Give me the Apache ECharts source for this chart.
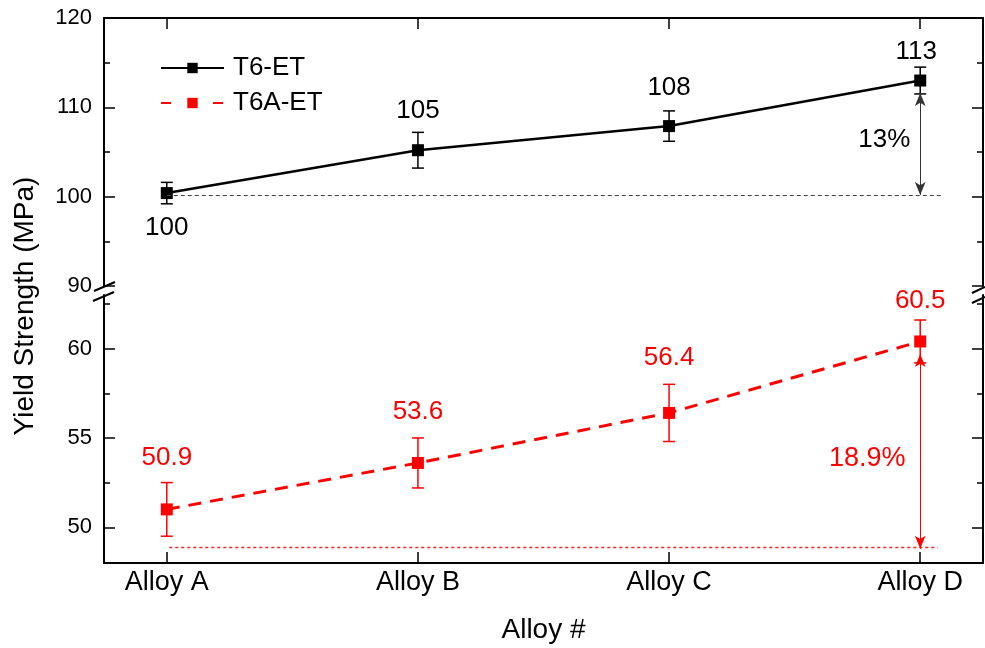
<!DOCTYPE html>
<html><head><meta charset="utf-8">
<script src="https://cdn.jsdelivr.net/npm/echarts@6/dist/echarts.min.js"></script>
<style>html,body{margin:0;padding:0;background:#fff}#c{width:985px;height:648px}</style>
</head><body><div id="c"></div>
<script>
// ---- data ----
const categories = ['Alloy A', 'Alloy B', 'Alloy C', 'Alloy D'];
const categoryPos = [0, 1, 2, 3];
const t6Values = [100.4, 105.2, 107.9, 113.0];
const t6Errors = [1.2, 2.0, 1.7, 1.5];
const t6Labels = ['100', '105', '108', '113'];
const t6aValues = [51.0, 53.6, 56.4, 60.4];
const t6aErrors = [1.5, 1.4, 1.6, 1.2];
const t6aLabels = ['50.9', '53.6', '56.4', '60.5'];
const upperRange = [90, 120];
const lowerRange = [48, 63];
const lowerMajorTicks = [50, 55, 60];
const lowerMinorTicks = [52.5, 57.5, 62.5];
const t6Baseline = 100.2;
const t6aBaseline = 48.9;
const t6ArrowTop = 111.6;
const t6aArrowTop = 59.7;
const t6aArrowBottom = 48.8;
const t6Gain = '13%';
const t6aGain = '18.9%';

// ---- layout / style ----
const FONT = 'Liberation Sans, Arial, sans-serif';
const GL = 104, GW = 879;
const UP_TOP = 18, UP_H = 268;
const LO_TOP = 295, LO_H = 268;
const t6LabelOffsets = [[0, 35], [0, -39], [0, -38], [-4, -29]];
const t6aLabelOffsets = [[0, -52], [0, -51], [0, -55], [0, -41]];
const axisLineStyle = { color: '#000', width: 2 };
const tickStyle = { color: '#000', width: 1.5 };

const chart = echarts.init(document.getElementById('c'), null, { renderer: 'canvas' });

function errRenderer(color) {
  return function (params, api) {
    const x = api.value(0), lo = api.value(1), hi = api.value(2);
    const p1 = api.coord([x, hi]), p2 = api.coord([x, lo]);
    const w = 6;
    const st = { stroke: color, lineWidth: 1.5 };
    return {
      type: 'group', children: [
        { type: 'line', shape: { x1: p1[0], y1: p1[1], x2: p2[0], y2: p2[1] }, style: st },
        { type: 'line', shape: { x1: p1[0] - w, y1: p1[1], x2: p1[0] + w, y2: p1[1] }, style: st },
        { type: 'line', shape: { x1: p2[0] - w, y1: p2[1], x2: p2[0] + w, y2: p2[1] }, style: st }
      ]
    };
  };
}

const xBase = {
  type: 'value', min: -0.25, max: 3.25,
  splitLine: { show: false },
  axisLine: { show: true, onZero: false, lineStyle: axisLineStyle },
  axisTick: { show: true, inside: true, length: 11, customValues: categoryPos, lineStyle: tickStyle }
};

function yAxis(grid, pos, range, opts) {
  return Object.assign({
    gridIndex: grid, type: 'value', position: pos, min: range[0], max: range[1],
    splitLine: { show: false },
    axisLine: { show: true, onZero: false, lineStyle: axisLineStyle },
    axisLabel: { show: false }
  }, opts);
}

const upperTickCfg = {
  interval: 10,
  axisTick: { show: true, inside: true, length: 11, lineStyle: tickStyle },
  minorTick: { show: true, splitNumber: 2, length: 6, lineStyle: tickStyle },
  minorSplitLine: { show: false }
};
const lowerMajorCfg = {
  axisTick: { show: true, inside: true, length: 11, customValues: lowerMajorTicks, lineStyle: tickStyle }
};
const lowerMinorCfg = {
  axisLine: { show: false, onZero: false },
  axisTick: { show: true, inside: true, length: 6, customValues: lowerMinorTicks, lineStyle: tickStyle }
};
const yLabel = { show: true, fontSize: 22, color: '#000', margin: 12, fontFamily: FONT };
const arrowSym = { symbol: 'arrow', symbolSize: [8, 13] };

const option = {
  animation: false,
  backgroundColor: '#fff',
  textStyle: { fontFamily: FONT },
  grid: [
    { left: GL, top: UP_TOP, width: GW, height: UP_H },
    { left: GL, top: LO_TOP, width: GW, height: LO_H },
    { left: GL, top: LO_TOP, width: GW, height: LO_H }
  ],
  legend: {
    orient: 'vertical', left: 155, top: 50, itemGap: 9,
    itemWidth: 63, itemHeight: 13,
    textStyle: { fontSize: 26, color: '#000', fontFamily: FONT, padding: [0, 0, 0, 4] },
    data: [
      { name: 'T6-ET' },
      { name: 'T6A-ET', lineStyle: { type: [10, 42] } }
    ]
  },
  xAxis: [
    Object.assign({ gridIndex: 0, position: 'top', axisLabel: { show: false } }, xBase),
    Object.assign({
      gridIndex: 1, position: 'bottom',
      axisLabel: { show: true, customValues: categoryPos, formatter: v => categories[Math.round(v)], fontSize: 27, color: '#000', margin: 6, fontFamily: FONT },
      name: 'Alloy #', nameLocation: 'middle', nameGap: 53,
      nameTextStyle: { fontSize: 28, color: '#000', fontFamily: FONT }
    }, xBase),
    { gridIndex: 2, type: 'value', min: -0.25, max: 3.25, show: false }
  ],
  yAxis: [
    yAxis(0, 'left', upperRange, Object.assign({}, upperTickCfg, { axisLabel: yLabel })),
    yAxis(0, 'right', upperRange, Object.assign({}, upperTickCfg)),
    yAxis(1, 'left', lowerRange, Object.assign({}, lowerMajorCfg, { axisLabel: Object.assign({ customValues: lowerMajorTicks }, yLabel) })),
    yAxis(1, 'right', lowerRange, Object.assign({}, lowerMajorCfg)),
    yAxis(2, 'left', lowerRange, Object.assign({}, lowerMinorCfg)),
    yAxis(2, 'right', lowerRange, Object.assign({}, lowerMinorCfg))
  ],
  series: [
    {
      type: 'custom', xAxisIndex: 0, yAxisIndex: 0, z: 2, silent: true,
      renderItem: errRenderer('#000'),
      encode: { x: 0, y: [1, 2] },
      data: t6Values.map((v, i) => [categoryPos[i], v - t6Errors[i], v + t6Errors[i]])
    },
    {
      name: 'T6-ET', type: 'line', xAxisIndex: 0, yAxisIndex: 0, z: 3,
      symbol: 'rect', symbolSize: 12, showAllSymbol: true,
      lineStyle: { color: '#000', width: 2.5 }, itemStyle: { color: '#000' },
      data: t6Values.map((v, i) => ({ value: [categoryPos[i], v], label: { offset: t6LabelOffsets[i] } })),
      label: { show: true, position: 'inside', formatter: p => t6Labels[p.dataIndex], fontSize: 26, color: '#000', fontFamily: FONT },
      markLine: {
        silent: true, animation: false, label: { show: false }, symbol: 'none',
        lineStyle: { color: '#444', width: 1, type: [4, 3] },
        data: [
          [{ coord: [categoryPos[0], t6Baseline] }, { coord: [3.09, t6Baseline] }],
          [Object.assign({ coord: [categoryPos[3], t6ArrowTop], lineStyle: { color: '#333', width: 1, type: 'solid' } }, arrowSym),
           Object.assign({ coord: [categoryPos[3], t6Baseline] }, arrowSym)]
        ]
      },
      markPoint: {
        silent: true, symbol: 'circle', symbolSize: 1, itemStyle: { color: 'rgba(0,0,0,0)' },
        label: { show: true, position: 'inside', fontSize: 26, color: '#000', fontFamily: FONT, formatter: () => t6Gain },
        data: [{ coord: [2.857, 106.4] }]
      }
    },
    {
      type: 'custom', xAxisIndex: 1, yAxisIndex: 2, z: 2, silent: true,
      renderItem: errRenderer('#ff0000'),
      encode: { x: 0, y: [1, 2] },
      data: t6aValues.map((v, i) => [categoryPos[i], v - t6aErrors[i], v + t6aErrors[i]])
    },
    {
      name: 'T6A-ET', type: 'line', xAxisIndex: 1, yAxisIndex: 2, z: 3,
      symbol: 'rect', symbolSize: 12, showAllSymbol: true,
      lineStyle: { color: '#ff0000', width: 3, type: [13, 9] }, itemStyle: { color: '#ff0000' },
      data: t6aValues.map((v, i) => ({ value: [categoryPos[i], v], label: { offset: t6aLabelOffsets[i] } })),
      label: { show: true, position: 'inside', formatter: p => t6aLabels[p.dataIndex], fontSize: 26, color: '#ff0000', fontFamily: FONT },
      markLine: {
        silent: true, animation: false, label: { show: false }, symbol: 'none',
        lineStyle: { color: '#ff2020', width: 1.3, type: [3, 3] },
        data: [
          [{ coord: [0.01, t6aBaseline] }, { coord: [3.07, t6aBaseline] }],
          [Object.assign({ coord: [categoryPos[3], t6aArrowTop], lineStyle: { color: '#ff0000', width: 1, type: 'solid' } }, arrowSym),
           Object.assign({ coord: [categoryPos[3], t6aArrowBottom] }, arrowSym)]
        ]
      },
      markPoint: {
        silent: true, symbol: 'circle', symbolSize: 1, itemStyle: { color: 'rgba(0,0,0,0)' },
        label: { show: true, position: 'inside', fontSize: 27, color: '#ff0000', fontFamily: FONT, formatter: () => t6aGain },
        data: [{ coord: [2.789, 53.86] }]
      }
    }
  ],
  graphic: [
    { type: 'text', x: 25, y: 306, rotation: Math.PI / 2,
      style: { text: 'Yield Strength (MPa)', fontSize: 28, fontFamily: FONT, fill: '#000', textAlign: 'center', textVerticalAlign: 'middle' } },
    { type: 'line', shape: { x1: 94, y1: 291, x2: 115, y2: 282 }, style: { stroke: '#000', lineWidth: 2 } },
    { type: 'line', shape: { x1: 93, y1: 301, x2: 114, y2: 292 }, style: { stroke: '#000', lineWidth: 2 } },
    { type: 'line', shape: { x1: 972, y1: 293, x2: 985, y2: 287 }, style: { stroke: '#000', lineWidth: 2 } },
    { type: 'line', shape: { x1: 972, y1: 303, x2: 985, y2: 297 }, style: { stroke: '#000', lineWidth: 2 } }
  ]
};
chart.setOption(option);
</script></body></html>
